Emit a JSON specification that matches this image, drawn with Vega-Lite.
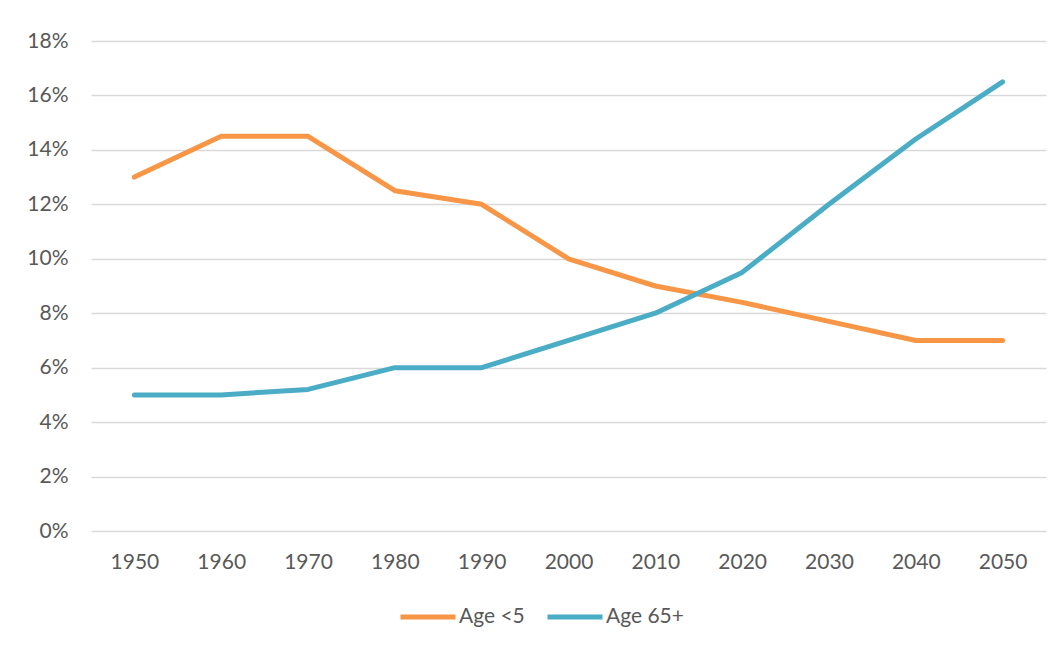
{
  "$schema": "https://vega.github.io/schema/vega-lite/v6.json",
  "autosize": {"type": "none"},
  "width": 955,
  "height": 490,
  "padding": {"left": 91, "top": 41, "right": 14, "bottom": 115},
  "background": "white",
  "config": {
    "view": {"stroke": null},
    "font": "Lato",
    "axis": {"labelFont": "Lato", "labelColor": "#595959", "labelFontSize": 21},
    "legend": {"labelFont": "Lato", "labelColor": "#595959", "labelFontSize": 21}
  },
  "data": {
    "values": [
      {"year": "1950", "series": "Age <5", "value": 0.13},
      {"year": "1960", "series": "Age <5", "value": 0.145},
      {"year": "1970", "series": "Age <5", "value": 0.145},
      {"year": "1980", "series": "Age <5", "value": 0.125},
      {"year": "1990", "series": "Age <5", "value": 0.12},
      {"year": "2000", "series": "Age <5", "value": 0.10},
      {"year": "2010", "series": "Age <5", "value": 0.09},
      {"year": "2020", "series": "Age <5", "value": 0.084},
      {"year": "2030", "series": "Age <5", "value": 0.077},
      {"year": "2040", "series": "Age <5", "value": 0.07},
      {"year": "2050", "series": "Age <5", "value": 0.07},
      {"year": "1950", "series": "Age 65+", "value": 0.05},
      {"year": "1960", "series": "Age 65+", "value": 0.05},
      {"year": "1970", "series": "Age 65+", "value": 0.052},
      {"year": "1980", "series": "Age 65+", "value": 0.06},
      {"year": "1990", "series": "Age 65+", "value": 0.06},
      {"year": "2000", "series": "Age 65+", "value": 0.07},
      {"year": "2010", "series": "Age 65+", "value": 0.08},
      {"year": "2020", "series": "Age 65+", "value": 0.095},
      {"year": "2030", "series": "Age 65+", "value": 0.12},
      {"year": "2040", "series": "Age 65+", "value": 0.144},
      {"year": "2050", "series": "Age 65+", "value": 0.165}
    ]
  },
  "mark": {"type": "line", "strokeWidth": 5, "strokeCap": "round", "strokeJoin": "round"},
  "encoding": {
    "x": {
      "field": "year", "type": "ordinal",
      "scale": {"type": "point", "padding": 0.5},
      "axis": {"title": null, "labelAngle": 0, "ticks": false, "domain": false, "grid": false, "labelPadding": 20}
    },
    "y": {
      "field": "value", "type": "quantitative",
      "scale": {"domain": [0, 0.18], "nice": false},
      "axis": {"title": null, "format": ".0%", "values": [0, 0.02, 0.04, 0.06, 0.08, 0.1, 0.12, 0.14, 0.16, 0.18], "ticks": false, "domain": false, "grid": true, "gridColor": "#D9D9D9", "gridWidth": 1.5, "labelPadding": 23}
    },
    "color": {
      "field": "series", "type": "nominal",
      "scale": {"domain": ["Age <5", "Age 65+"], "range": ["#F79646", "#4BACC6"]},
      "legend": {
        "title": null, "orient": "none", "direction": "horizontal",
        "legendX": 307, "legendY": 546,
        "symbolType": "stroke", "symbolSize": 3025, "symbolStrokeWidth": 5,
        "labelOffset": 1, "columnPadding": 12
      }
    }
  }
}
